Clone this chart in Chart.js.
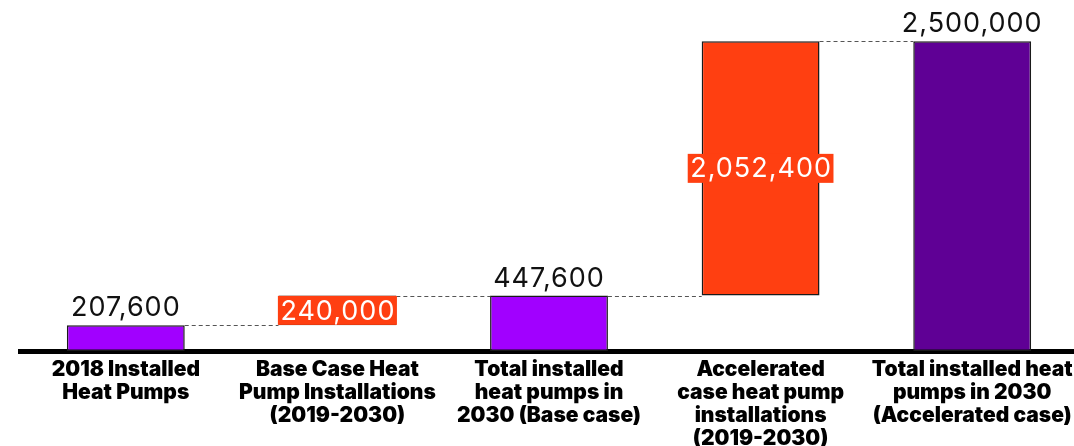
<!DOCTYPE html>
<html>
<head>
<meta charset="utf-8">
<script src="https://cdn.jsdelivr.net/npm/chart.js@4.4.1/dist/chart.umd.min.js"></script>
<style>
  html, body { margin: 0; padding: 0; background: #fff; overflow: hidden; }
  #wrap { width: 1078px; height: 446px; position: relative; }
</style>
</head>
<body>
<div id="wrap"><canvas id="cascata"></canvas></div>
<script>
// categorias (eixo x)
const categorias = [
  ["2018 Installed", "Heat Pumps"],
  ["Base Case Heat", "Pump Installations", "(2019-2030)"],
  ["Total installed", "heat pumps in", "2030 (Base case)"],
  ["Accelerated", "case heat pump", "installations", "(2019-2030)"],
  ["Total installed heat", "pumps in 2030", "(Accelerated case)"]
];
// inicio e fim de cada barra
const inicios = [0, 207600, 0, 447600, 0];
const fins = [207600, 447600, 447600, 2500000, 2500000];
// barras que sao incrementos (rotulo dentro da barra)
const incrementos = [false, true, false, true, false];

const cores = ["#a100ff", "#ff3f11", "#a100ff", "#ff3f11", "#5f0095"];
const fonteValor = "400 27px Inter";

const rotulosEConectores = {
  id: "rotulosEConectores",
  afterDatasetsDraw(chart) {
    const ctx = chart.ctx;
    const meta = chart.getDatasetMeta(0);
    const y = chart.scales.y;
    ctx.save();

    // linhas tracejadas entre as barras
    ctx.strokeStyle = "#555";
    ctx.lineWidth = 1;
    ctx.setLineDash([4, 3]);
    for (let i = 0; i < meta.data.length - 1; i++) {
      const a = meta.data[i], b = meta.data[i + 1];
      const yy = Math.round(y.getPixelForValue(fins[i])) + 0.5;
      ctx.beginPath();
      ctx.moveTo(a.x + a.width / 2, yy);
      ctx.lineTo(b.x - b.width / 2, yy);
      ctx.stroke();
    }
    ctx.setLineDash([]);

    // rotulos de valor
    ctx.font = fonteValor;
    ctx.letterSpacing = "1px";
    ctx.textAlign = "center";
    meta.data.forEach((bar, i) => {
      const valor = fins[i] - inicios[i];
      const texto = valor.toLocaleString("en-US");
      if (incrementos[i]) {
        const meio = (y.getPixelForValue(inicios[i]) + y.getPixelForValue(fins[i])) / 2;
        const w = ctx.measureText(texto).width + 4;
        ctx.fillStyle = cores[i];
        ctx.fillRect(bar.x - w / 2, meio - 14.5, w, 29);
        ctx.fillStyle = "#fff";
        ctx.textBaseline = "middle";
        ctx.fillText(texto, bar.x + 0.5, meio + 1);
      } else {
        ctx.fillStyle = "#111";
        ctx.textBaseline = "alphabetic";
        ctx.fillText(texto, bar.x, y.getPixelForValue(fins[i]) - 9);
      }
    });
    ctx.restore();
  }
};

new Chart(document.getElementById("cascata"), {
  type: "bar",
  data: {
    labels: categorias,
    datasets: [{
      data: inicios.map((v, i) => [v, fins[i]]),
      backgroundColor: cores,
      borderColor: "#1a1a1a",
      borderWidth: 1.5,
      borderSkipped: false,
      barPercentage: 0.557,
      categoryPercentage: 1
    }]
  },
  options: {
    responsive: true,
    maintainAspectRatio: false,
    animation: false,
    layout: { padding: { left: 20, right: 0, top: 4, bottom: -3 } },
    plugins: { legend: { display: false }, tooltip: { enabled: false } },
    scales: {
      x: {
        grid: { display: false },
        border: { display: true, color: "#000", width: 5 },
        ticks: {
          color: "#000",
          padding: -1,
          maxRotation: 0,
          autoSkip: false,
          font: { family: "Inter", weight: "900", size: 21, lineHeight: "23px" }
        }
      },
      y: {
        display: false,
        min: 0,
        max: 2800000
      }
    }
  },
  plugins: [rotulosEConectores]
});
</script>
</body>
</html>
